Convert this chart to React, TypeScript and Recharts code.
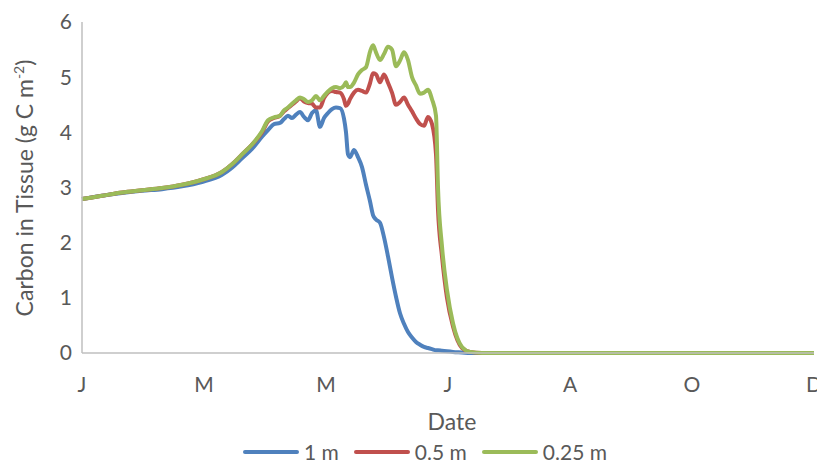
import React from "react";
import { LineChart, Line, XAxis, YAxis, Legend, Label } from "recharts";

const days = [0, 10, 20, 30, 40, 50, 60, 70, 75, 80, 85, 90, 93, 96, 99, 101, 103, 105, 107, 109, 111, 113, 115, 117, 119, 121, 123, 125, 127, 129, 131, 132, 133, 134, 136, 138, 140, 142, 144, 145.5, 147, 149, 151, 153, 155, 157, 159, 161, 163, 165, 167, 169, 171, 173, 175, 177, 178, 180, 182.5, 185.5, 190, 194, 200, 250, 300, 366];

const depth1m = [2.79, 2.85, 2.9, 2.94, 2.97, 3.02, 3.1, 3.23, 3.36, 3.53, 3.7, 3.92, 4.04, 4.15, 4.17, 4.24, 4.3, 4.26, 4.32, 4.37, 4.28, 4.22, 4.35, 4.4, 4.1, 4.26, 4.35, 4.42, 4.45, 4.44, 4.25, 4.0, 3.6, 3.55, 3.68, 3.55, 3.37, 3.05, 2.75, 2.5, 2.42, 2.36, 2.1, 1.75, 1.37, 1.02, 0.72, 0.53, 0.38, 0.28, 0.2, 0.15, 0.11, 0.09, 0.07, 0.05, 0.05, 0.04, 0.03, 0.02, 0.01, 0, 0, 0, 0, 0];

const depth05m = [2.79, 2.85, 2.91, 2.95, 2.99, 3.05, 3.14, 3.28, 3.42, 3.6, 3.78, 4.0, 4.2, 4.26, 4.3, 4.38, 4.44, 4.5, 4.56, 4.62, 4.56, 4.53, 4.52, 4.45, 4.45, 4.62, 4.72, 4.75, 4.73, 4.72, 4.6, 4.48, 4.52, 4.6, 4.72, 4.77, 4.75, 4.72, 4.89, 5.07, 5.05, 4.91, 5.05, 4.9, 4.72, 4.5, 4.55, 4.63, 4.5, 4.38, 4.25, 4.15, 4.12, 4.28, 4.15, 3.6, 2.6, 1.75, 1.0, 0.48, 0.09, 0.02, 0, 0, 0, 0];

const depth025m = [2.79, 2.85, 2.91, 2.95, 2.99, 3.05, 3.14, 3.28, 3.42, 3.6, 3.78, 4.02, 4.22, 4.27, 4.3, 4.4, 4.45, 4.52, 4.58, 4.63, 4.6, 4.55, 4.58, 4.66, 4.58, 4.66, 4.74, 4.8, 4.82, 4.8, 4.85, 4.91, 4.82, 4.82, 4.9, 5.05, 5.13, 5.18, 5.46, 5.58, 5.45, 5.31, 5.42, 5.55, 5.5, 5.2, 5.3, 5.45, 5.31, 5.0, 4.85, 4.7, 4.72, 4.77, 4.6, 4.3, 3.0, 1.93, 1.14, 0.54, 0.11, 0.02, 0, 0, 0, 0];

const monthTicks = [0, 61, 122, 183, 244, 305, 366];
const monthLabels = ["J", "M", "M", "J", "A", "O", "D"];
const yTicks = [0, 1, 2, 3, 4, 5, 6];

const seriesNames = ["1 m", "0.5 m", "0.25 m"];
const seriesColors = ["#4F81BD", "#C0504D", "#9BBB59"];

const data = days.map((d, i) => ({
  day: d,
  a: depth1m[i],
  b: depth05m[i],
  c: depth025m[i],
}));

const FONT = "Lato, 'Open Sans', sans-serif";
const TEXT = "#595959";

const YTitle = () => (
  <text
    x={33}
    y={188}
    transform="rotate(-90, 33, 188)"
    textAnchor="middle"
    fontSize={23}
    fontFamily={FONT}
    fill={TEXT}
  >
    Carbon in Tissue (g C m
    <tspan dy={-9} fontSize={14}>-2</tspan>
    <tspan dy={9}>)</tspan>
  </text>
);

const XTitle = (props: any) => {
  const vb = props.viewBox || {};
  return (
    <text
      x={vb.x + vb.width / 2 + 4}
      y={430}
      textAnchor="middle"
      fontSize={23}
      fontFamily={FONT}
      fill={TEXT}
    >
      Date
    </text>
  );
};

const LegendContent = () => (
  <div style={{ display: "flex", alignItems: "center", fontFamily: FONT, fontSize: 21, color: TEXT, whiteSpace: "nowrap" }}>
    {seriesNames.map((n, i) => (
      <div key={n} style={{ display: "flex", alignItems: "center", marginRight: 15 }}>
        <svg width={56} height={8} style={{ marginRight: 5 }}>
          <line x1={2} y1={4} x2={54} y2={4} stroke={seriesColors[i]} strokeWidth={4} strokeLinecap="round" />
        </svg>
        <span>{n}</span>
      </div>
    ))}
  </div>
);

export default function App() {
  return (
    <div style={{ position: "absolute", left: 0, top: 0, width: 817, height: 464, background: "#fff", overflow: "hidden" }}>
      <LineChart width={817} height={464} data={data} margin={{ top: 22, right: 3, left: 0, bottom: 31 }}>
        <XAxis
          dataKey="day"
          type="number"
          domain={[0, 366]}
          ticks={monthTicks}
          tickFormatter={(v: number) => monthLabels[monthTicks.indexOf(v)]}
          tickLine={false}
          tickSize={0}
          tickMargin={24}
          height={80}
          axisLine={{ stroke: "#BFBFBF", strokeWidth: 1.5 }}
          tick={{ fill: TEXT, fontSize: 21, fontFamily: FONT }}
          interval={0}
        >
          <Label content={<XTitle />} />
        </XAxis>
        <YAxis
          type="number"
          domain={[0, 6]}
          ticks={yTicks}
          width={82}
          tickLine={false}
          tickSize={0}
          tickMargin={10}
          axisLine={{ stroke: "#BFBFBF", strokeWidth: 1.5 }}
          tick={{ fill: TEXT, fontSize: 21, fontFamily: FONT }}
          interval={0}
        >
          <Label content={<YTitle />} />
        </YAxis>
        <Legend
          layout="horizontal"
          verticalAlign="middle"
          align="center"
          content={<LegendContent />}
          wrapperStyle={{ position: "absolute", left: 243, top: 439, width: 420 }}
        />
        <Line dataKey="a" name="1 m" type="monotone" stroke={seriesColors[0]} strokeWidth={4} dot={false} isAnimationActive={false} />
        <Line dataKey="b" name="0.5 m" type="monotone" stroke={seriesColors[1]} strokeWidth={4} dot={false} isAnimationActive={false} />
        <Line dataKey="c" name="0.25 m" type="monotone" stroke={seriesColors[2]} strokeWidth={4} dot={false} isAnimationActive={false} />
      </LineChart>
    </div>
  );
}
